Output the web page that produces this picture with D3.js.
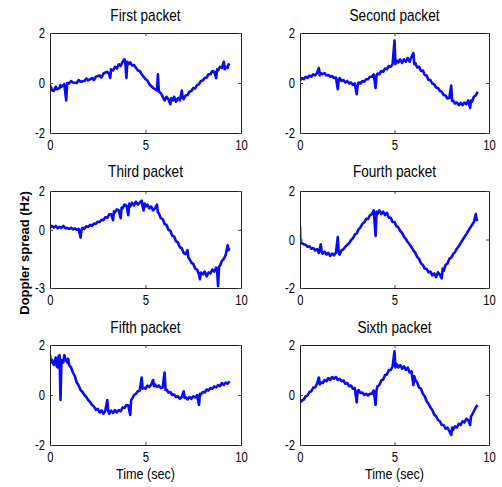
<!DOCTYPE html>
<html>
<head>
<meta charset="utf-8">
<script src="https://cdn.jsdelivr.net/npm/d3@7"></script>
<style>
body { margin:0; background:#fff; }
text { font-family: "Liberation Sans", Arial, sans-serif; fill:#000; }
</style>
</head>
<body>
<div id="chart"></div>
<script>
// values, [time (sec), doppler spread (Hz)]
var titles = ["First packet","Second packet","Third packet","Fourth packet","Fifth packet","Sixth packet"];
var xTicks = [0,5,10];
var yTicksA = [-2,0,2];
var yTicksB = [-3,0,2];

var first = [[0,-0.3],[0.05,-0.15],[0.1,-0.28],[0.2,-0.32],[0.3,-0.15],[0.35,-0.25],[0.5,-0.2],[0.55,-0.08],[0.6,-0.15],[0.75,-0.05],[0.85,-0.7],[0.9,0],[1,-0.02],[1.1,0.08],[1.2,0.02],[1.4,0],[1.5,0.12],[1.6,0.05],[1.8,0.08],[1.9,0.18],[2,0.1],[2.2,0.2],[2.3,0.12],[2.4,0.25],[2.6,0.3],[2.7,0.22],[2.8,0.38],[3,0.45],[3.1,0.35],[3.15,0.2],[3.2,0.55],[3.3,0.5],[3.4,0.65],[3.5,0.58],[3.6,0.75],[3.7,0.68],[3.8,0.85],[3.9,0.95],[3.95,0.75],[4,0.2],[4.05,0.85],[4.1,0.75],[4.2,0.82],[4.3,0.7],[4.4,0.72],[4.6,0.5],[4.7,0.48],[4.8,0.35],[5,0.15],[5.1,0.1],[5.2,-0.05],[5.4,-0.2],[5.6,-0.3],[5.65,0.35],[5.7,-0.35],[5.8,-0.4],[5.9,-0.55],[6,-0.7],[6.1,-0.55],[6.2,-0.65],[6.3,-0.85],[6.35,-0.6],[6.45,-0.7],[6.5,-0.55],[6.6,-0.75],[6.7,-0.6],[6.8,-0.7],[6.9,-0.3],[6.95,-0.6],[7,-0.65],[7.1,-0.5],[7.2,-0.48],[7.3,-0.35],[7.4,-0.32],[7.5,-0.2],[7.6,-0.22],[7.7,-0.08],[7.8,-0.05],[7.9,0.08],[8,0.1],[8.1,0.2],[8.2,0.22],[8.3,0.35],[8.4,0.35],[8.5,0.48],[8.6,0.45],[8.7,0.2],[8.75,0.55],[8.8,0.5],[8.9,0.65],[9,0.6],[9.1,0.85],[9.15,0.55],[9.2,0.65],[9.3,0.6],[9.35,0.75],[9.4,0.7]];
var second = [[0,0.1],[0.1,0.2],[0.2,0.15],[0.3,0.25],[0.4,0.2],[0.5,0.3],[0.6,0.25],[0.7,0.35],[0.8,0.3],[0.9,0.4],[1,0.6],[1.05,0.3],[1.1,0.4],[1.2,0.35],[1.3,0.4],[1.4,0.3],[1.5,0.32],[1.6,0.25],[1.7,0.28],[1.8,0.2],[1.9,0.22],[2,-0.25],[2.05,0.15],[2.1,0.2],[2.2,0.08],[2.3,0.12],[2.4,0.02],[2.5,0.08],[2.6,-0.02],[2.7,0.02],[2.8,-0.08],[2.9,-0.02],[3,-0.45],[3.05,-0.1],[3.1,0.02],[3.2,-0.02],[3.3,0.08],[3.4,0.05],[3.5,0.15],[3.6,0.15],[3.7,0.25],[3.8,0.25],[3.9,0.35],[4,-0.2],[4.05,0.3],[4.1,0.38],[4.2,0.35],[4.3,0.48],[4.4,0.45],[4.5,0.58],[4.6,0.55],[4.7,0.68],[4.8,0.65],[4.9,0.75],[5,1.7],[5.05,0.75],[5.1,0.9],[5.2,0.82],[5.3,0.95],[5.4,0.8],[5.5,0.95],[5.6,0.85],[5.7,1],[5.8,0.85],[5.9,1.05],[6,1.2],[6.05,0.75],[6.1,0.8],[6.2,0.62],[6.3,0.65],[6.4,0.48],[6.5,0.5],[6.6,0.32],[6.7,0.3],[6.8,0.12],[6.9,0.12],[7,-0.02],[7.1,-0.05],[7.2,-0.18],[7.3,-0.2],[7.4,-0.32],[7.5,-0.35],[7.6,-0.48],[7.7,-0.5],[7.8,-0.62],[7.9,-0.6],[8,-0.1],[8.05,-0.72],[8.1,-0.7],[8.2,-0.82],[8.3,-0.78],[8.4,-0.88],[8.5,-0.8],[8.6,-0.88],[8.7,-0.78],[8.8,-0.85],[8.9,-0.7],[9,-1],[9.05,-0.7],[9.1,-0.75],[9.2,-0.55],[9.3,-0.5],[9.4,-0.35]];
var third = [[0,0.1],[0.1,0.2],[0.2,0.12],[0.3,0.2],[0.4,0.08],[0.5,0.15],[0.6,0.1],[0.7,0.2],[0.8,0.08],[0.9,0.1],[1,0.05],[1.1,0.1],[1.2,0.02],[1.3,0.08],[1.4,0],[1.5,0.05],[1.6,-0.4],[1.65,0],[1.7,0.1],[1.8,0.05],[1.9,0.18],[2,0.15],[2.1,0.25],[2.2,0.2],[2.3,0.32],[2.4,0.3],[2.5,0.42],[2.6,0.4],[2.7,0.52],[2.8,0.5],[2.9,0.65],[3,0.62],[3.1,0.8],[3.2,0.8],[3.3,0.5],[3.35,0.95],[3.4,0.9],[3.5,1.05],[3.6,1],[3.7,0.6],[3.75,1.15],[3.8,1.1],[3.9,1.3],[4,1.25],[4.1,0.75],[4.15,1.35],[4.2,1.2],[4.3,1.4],[4.4,1.25],[4.5,1.45],[4.6,1.3],[4.7,1.4],[4.8,1.5],[4.85,1.2],[4.9,1],[4.95,1.35],[5,1.2],[5.1,1.3],[5.2,1.1],[5.3,1.2],[5.4,1],[5.5,1.1],[5.6,1.3],[5.65,0.9],[5.7,0.85],[5.8,0.6],[5.9,0.55],[6,0.3],[6.1,0.25],[6.2,0],[6.3,-0.05],[6.4,-0.3],[6.5,-0.35],[6.6,-0.6],[6.7,-0.65],[6.8,-0.9],[6.9,-0.95],[7,-1.2],[7.1,-1.25],[7.2,-1.05],[7.25,-1.45],[7.3,-1.5],[7.4,-1.7],[7.5,-1.75],[7.6,-2],[7.7,-2.05],[7.8,-2.3],[7.85,-2.55],[7.9,-2.2],[8,-2.3],[8.1,-2.15],[8.2,-2.4],[8.3,-2.2],[8.4,-2.25],[8.5,-2.05],[8.6,-2.15],[8.7,-1.95],[8.75,-2.1],[8.8,-2.9],[8.85,-1.9],[8.9,-1.85],[9,-1.6],[9.1,-1.5],[9.2,-1.3],[9.3,-0.8],[9.35,-1.05],[9.4,-0.95]];
var fourth = [[0,0.55],[0.02,-0.1],[0.1,-0.15],[0.2,-0.2],[0.3,-0.22],[0.4,-0.3],[0.5,-0.28],[0.6,-0.38],[0.7,-0.35],[0.8,-0.45],[0.9,-0.4],[1,-0.55],[1.1,-0.2],[1.15,-0.5],[1.2,-0.58],[1.3,-0.5],[1.4,-0.62],[1.5,-0.55],[1.6,-0.68],[1.7,-0.58],[1.8,-0.65],[1.9,-0.55],[2,0.1],[2.05,-0.55],[2.1,-0.62],[2.2,-0.45],[2.3,-0.4],[2.4,-0.3],[2.5,-0.22],[2.6,-0.15],[2.7,-0.02],[2.8,0.05],[2.9,0.2],[3,0.25],[3.1,0.42],[3.2,0.5],[3.3,0.65],[3.4,0.7],[3.5,0.85],[3.6,0.85],[3.7,1],[3.8,1.05],[3.9,1.2],[4,0.15],[4.05,1.15],[4.1,1.05],[4.2,1.2],[4.3,1.05],[4.4,1.15],[4.5,1],[4.6,1.1],[4.7,0.9],[4.8,0.9],[4.9,0.72],[5,0.72],[5.1,0.55],[5.2,0.5],[5.3,0.35],[5.4,0.28],[5.5,0.12],[5.6,0.02],[5.7,-0.1],[5.8,-0.2],[5.9,-0.32],[6,-0.45],[6.1,-0.55],[6.2,-0.72],[6.3,-0.8],[6.4,-0.98],[6.5,-1.05],[6.6,-1.2],[6.7,-1.22],[6.8,-1.35],[6.9,-1.32],[7,-1.48],[7.1,-1.4],[7.2,-1.55],[7.3,-1.35],[7.4,-1.45],[7.5,-1.6],[7.55,-1.2],[7.6,-1.3],[7.7,-1.05],[7.8,-1],[7.9,-0.8],[8,-0.75],[8.1,-0.6],[8.2,-0.52],[8.3,-0.38],[8.4,-0.28],[8.5,-0.15],[8.6,-0.02],[8.7,0.1],[8.8,0.22],[8.9,0.35],[9,0.48],[9.1,0.6],[9.2,0.72],[9.3,1.05],[9.35,0.8],[9.4,0.85]];
var fifth = [[0,1.6],[0.05,1.3],[0.1,1.4],[0.2,1.2],[0.3,1.5],[0.35,1.15],[0.4,1.1],[0.45,1.55],[0.5,1.6],[0.55,-0.2],[0.6,1.4],[0.7,1.3],[0.75,1.6],[0.8,1.45],[0.9,1.3],[0.95,1.45],[1,1.2],[1.1,1.1],[1.2,0.9],[1.3,0.75],[1.4,0.5],[1.5,0.38],[1.6,0.2],[1.7,0.12],[1.8,0],[1.9,-0.08],[2,-0.2],[2.1,-0.28],[2.2,-0.4],[2.3,-0.45],[2.4,-0.6],[2.5,-0.55],[2.6,-0.7],[2.7,-0.62],[2.8,-0.75],[2.9,-0.62],[3,-0.2],[3.05,-0.65],[3.1,-0.75],[3.2,-0.62],[3.3,-0.72],[3.4,-0.6],[3.5,-0.7],[3.6,-0.6],[3.7,-0.65],[3.8,-0.5],[3.9,-0.52],[4,-0.4],[4.1,-0.42],[4.2,-0.8],[4.25,-0.2],[4.3,-0.15],[4.4,0],[4.5,0.05],[4.6,0.15],[4.7,0.18],[4.8,0.7],[4.85,0.25],[4.9,0.3],[5,0.25],[5.1,0.38],[5.2,0.32],[5.3,0.42],[5.4,0.6],[5.45,0.35],[5.5,0.42],[5.6,0.32],[5.7,0.38],[5.8,0.28],[5.9,0.3],[6,0.9],[6.05,0.2],[6.1,0.22],[6.2,0.1],[6.3,0.12],[6.4,0],[6.5,0.02],[6.6,-0.08],[6.7,-0.05],[6.8,-0.15],[6.9,-0.08],[7,0.15],[7.05,-0.12],[7.1,-0.08],[7.2,-0.18],[7.3,-0.08],[7.4,-0.15],[7.5,-0.05],[7.6,-0.1],[7.7,0],[7.8,-0.4],[7.85,0.05],[7.9,0.02],[8,0.12],[8.1,0.1],[8.2,0.22],[8.3,0.18],[8.4,0.28],[8.5,0.25],[8.6,0.35],[8.7,0.3],[8.8,0.4],[8.9,0.35],[9,0.48],[9.1,0.4],[9.2,0.5],[9.3,0.45],[9.4,0.55]];
var sixth = [[0,-0.3],[0.1,-0.22],[0.2,-0.18],[0.3,-0.05],[0.4,-0.02],[0.5,0.12],[0.6,0.15],[0.7,0.3],[0.8,0.3],[0.9,0.45],[1,0.7],[1.05,0.42],[1.1,0.5],[1.2,0.48],[1.3,0.6],[1.4,0.55],[1.5,0.68],[1.6,0.6],[1.7,0.72],[1.8,0.65],[1.9,0.72],[2,0.6],[2.1,0.65],[2.2,0.55],[2.3,0.58],[2.4,0.45],[2.5,0.48],[2.6,0.35],[2.7,0.38],[2.8,0.25],[2.9,0.28],[3,-0.3],[3.05,0.15],[3.1,0.2],[3.2,0.08],[3.3,0.1],[3.4,0],[3.5,0.05],[3.6,-0.02],[3.7,0.05],[3.8,0.05],[3.9,0.18],[4,-0.4],[4.05,0.2],[4.1,0.35],[4.2,0.4],[4.3,0.58],[4.4,0.62],[4.5,0.8],[4.6,0.82],[4.7,1],[4.8,1],[4.9,1.15],[5,1.75],[5.05,1.1],[5.1,1.25],[5.2,1.1],[5.3,1.2],[5.4,1.05],[5.5,1.15],[5.6,1],[5.7,1.1],[5.8,0.9],[5.9,0.95],[6,0.4],[6.05,0.75],[6.1,0.6],[6.2,0.5],[6.3,0.3],[6.4,0.25],[6.5,0.05],[6.6,-0.05],[6.7,-0.25],[6.8,-0.35],[6.9,-0.5],[7,-0.6],[7.1,-0.78],[7.2,-0.85],[7.3,-1],[7.4,-1.05],[7.5,-1.2],[7.6,-1.2],[7.7,-1.35],[7.8,-1.3],[7.9,-1.45],[8,-1.6],[8.05,-1.3],[8.1,-1.4],[8.2,-1.25],[8.3,-1.3],[8.4,-1.15],[8.5,-1.2],[8.6,-1.05],[8.7,-1.1],[8.8,-0.95],[8.9,-1],[9,-1.2],[9.05,-0.85],[9.1,-0.8],[9.2,-0.65],[9.3,-0.5],[9.4,-0.4]];

var series = [first, second, third, fourth, fifth, sixth];

var W = 502, H = 487;
// panel boxes
var cols = [50, 300], colW = [191, 189];
var rows = [33, 191, 345], rowH = [100, 97, 100];
var titleOff = [-12, -14, -12];

var svg = d3.select("#chart").append("svg")
    .attr("width", W)
    .attr("height", H);

// the original text is a narrow, tall face: squeeze the glyphs sideways
var squeeze = function(sel, f){
    sel.each(function(){
        var l = this.getComputedTextLength();
        d3.select(this).attr("textLength", l*f).attr("lengthAdjust","spacingAndGlyphs");
    });
};

var drawPanel = function(i){
    var c = i % 2, r = Math.floor(i / 2);
    var w = colW[c], h = rowH[r];
    var yTicks = (i == 2) ? yTicksB : yTicksA;

    var x = d3.scaleLinear().domain([0,10]).range([0, w]);
    var y = d3.scaleLinear().domain([yTicks[0], yTicks[yTicks.length-1]]).range([h, 0]);

    var g = svg.append("g")
        .attr("class","panel")
        .attr("transform","translate("+cols[c]+","+rows[r]+")");

    g.append("defs").append("clipPath").attr("id","clip"+i)
        .append("rect").attr("width", w).attr("height", h);

    var line = d3.line().x(function(d){return x(d[0]);}).y(function(d){return y(d[1]);});
    g.append("path")
        .datum(series[i])
        .attr("clip-path","url(#clip"+i+")")
        .attr("d", line)
        .style("fill","none")
        .style("stroke","#0a0af5")
        .style("stroke-width",2.6)
        .style("stroke-linejoin","round");

    // matlab style: ticks inside on all four sides
    var xb = d3.axisBottom(x).tickValues(xTicks).tickSizeInner(-3).tickSizeOuter(0).tickPadding(6);
    var xt = d3.axisTop(x).tickValues(xTicks).tickSizeInner(-3).tickSizeOuter(0).tickFormat("");
    var yl = d3.axisLeft(y).tickValues(yTicks).tickSizeInner(-3).tickSizeOuter(0).tickPadding(5)
        .tickFormat(function(d){return d < 0 ? "-" + Math.abs(d) : d;});
    var yr = d3.axisRight(y).tickValues(yTicks).tickSizeInner(-3).tickSizeOuter(0).tickFormat("");

    g.append("g").attr("transform","translate(0,"+h+")").call(xb);
    g.append("g").call(xt);
    g.append("g").call(yl);
    g.append("g").attr("transform","translate("+w+",0)").call(yr);

    g.selectAll(".domain").style("stroke","#222");
    g.selectAll(".tick line").style("stroke","#444");
    var tt = g.selectAll(".tick text").attr("font-size",null).attr("font-family",null)
        .style("font-size","15px").style("fill","#000");
    squeeze(tt, 0.75);

    var t = g.append("text")
        .attr("x", w/2)
        .attr("y", titleOff[r])
        .style("text-anchor","middle")
        .style("font-size","17px")
        .text(titles[i]);
    squeeze(t, 0.8);

    if(r == 2) {
        var xl = g.append("text")
            .attr("x", w/2)
            .attr("y", h + 34)
            .style("text-anchor","middle")
            .style("font-size","15px")
            .text("Time (sec)");
        squeeze(xl, 0.84);
    }
};

for(var i=0;i<6;i++) drawPanel(i);

svg.append("text")
    .attr("transform","translate(29,253) rotate(-90)")
    .style("text-anchor","middle")
    .style("font-weight","bold")
    .style("font-size","13px")
    .text("Doppler spread (Hz)");
</script>
</body>
</html>
